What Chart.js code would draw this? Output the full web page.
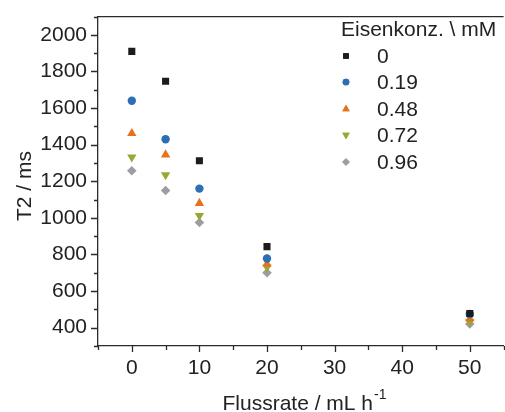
<!DOCTYPE html>
<html lang="de">
<head>
<meta charset="UTF-8">
<title>T2 vs Flussrate</title>
<script src="https://cdn.jsdelivr.net/npm/chart.js"></script>
<style>
  html, body { margin: 0; padding: 0; background: #fff; overflow: hidden; }
  #wrap { position: relative; width: 509px; height: 412px; }
</style>
</head>
<body>
<div id="wrap"><canvas id="chart"></canvas></div>
<script>
// Data
const flussrate = [0, 5, 10, 20, 50];
const konz = ['0', '0.19', '0.48', '0.72', '0.96'];
const t2_000 = [1910, 1747, 1312, 843, 478];
const t2_019 = [1640, 1430, 1160, 778, 475];
const t2_048 = [1462, 1345, 1080, 748, 450];
const t2_072 = [1332, 1235, 1012, 730, 432];
const t2_096 = [1258, 1150, 975, 700, 420];
const yTicks = [400, 600, 800, 1000, 1200, 1400, 1600, 1800, 2000];
const xTicks = [0, 10, 20, 30, 40, 50];

const FONT = "'Liberation Sans', Arial, sans-serif";
const AXIS = '#2b2b2b';

const seriesStyle = [
  { color: '#1c1c1c', pointStyle: 'rect', radius: 5, rotation: 0 },
  { color: '#2d6fb7', pointStyle: 'circle', radius: 4.2, rotation: 0 },
  { color: '#e8711f', pointStyle: 'triangle', radius: 5.4, rotation: 0 },
  { color: '#9aa732', pointStyle: 'triangle', radius: 5.4, rotation: 180 },
  { color: '#9d9da2', pointStyle: 'rectRot', radius: 4.8, rotation: 0 }
];
const allValues = [t2_000, t2_019, t2_048, t2_072, t2_096];

const datasets = allValues.map((vals, i) => ({
  label: konz[i],
  data: flussrate.map((x, j) => ({ x: x, y: vals[j] })),
  showLine: false,
  pointStyle: seriesStyle[i].pointStyle,
  pointRotation: seriesStyle[i].rotation,
  pointRadius: seriesStyle[i].radius,
  pointHoverRadius: seriesStyle[i].radius,
  backgroundColor: seriesStyle[i].color,
  borderColor: seriesStyle[i].color,
  pointBorderWidth: 0
}));

// Draws top frame, major/minor ticks, axis titles and the legend
const decorations = {
  id: 'decorations',
  afterDraw(chart) {
    const ctx = chart.ctx;
    const area = chart.chartArea;
    const xs = chart.scales.x;
    const ys = chart.scales.y;
    ctx.save();
    ctx.strokeStyle = AXIS;
    ctx.lineWidth = 1.3;
    ctx.beginPath();
    ctx.moveTo(area.left, area.top);
    ctx.lineTo(area.right, area.top);
    // y ticks
    for (let v = 300; v <= 2100; v += 100) {
      const y = Math.round(ys.getPixelForValue(v)) + 0.5;
      const len = (v % 200 === 0) ? 7 : 4;
      ctx.moveTo(area.left, y);
      ctx.lineTo(area.left - len, y);
    }
    // x ticks
    for (let v = -5; v <= 55; v += 5) {
      const x = Math.round(xs.getPixelForValue(v)) + 0.5;
      const len = (v % 10 === 0) ? 6 : 4;
      ctx.moveTo(x, area.bottom);
      ctx.lineTo(x, area.bottom + len);
    }
    ctx.stroke();

    // axis titles
    ctx.fillStyle = '#222';
    ctx.font = '21px ' + FONT;
    ctx.textBaseline = 'middle';
    ctx.textAlign = 'center';
    ctx.save();
    ctx.translate(25, 186);
    ctx.rotate(-Math.PI / 2);
    ctx.fillText('T2 / ms', 0, 0);
    ctx.restore();

    const main = 'Flussrate / mL h';
    const sup = '-1';
    ctx.font = '21px ' + FONT;
    const w1 = ctx.measureText(main).width;
    ctx.font = '14px ' + FONT;
    const w2 = ctx.measureText(sup).width;
    const startX = 304 - (w1 + w2) / 2;
    ctx.textAlign = 'left';
    ctx.textBaseline = 'alphabetic';
    ctx.font = '21px ' + FONT;
    ctx.fillText(main, startX, 410);
    ctx.font = '14px ' + FONT;
    ctx.fillText(sup, startX + w1 + 1, 399);

    // legend
    ctx.font = '21px ' + FONT;
    ctx.textBaseline = 'middle';
    ctx.fillText('Eisenkonz. \\ mM', 341, 30);
    const rowY = [56, 82, 109, 135, 162];
    konz.forEach((lab, i) => {
      const s = seriesStyle[i];
      ctx.fillStyle = s.color;
      ctx.strokeStyle = s.color;
      Chart.helpers.drawPoint(ctx, {
        pointStyle: s.pointStyle,
        rotation: s.rotation,
        radius: s.radius * 0.8,
        borderWidth: 0
      }, 346, rowY[i]);
      ctx.fill();
      ctx.fillStyle = '#222';
      ctx.fillText(lab, 377, rowY[i] + 1);
    });
    ctx.restore();
  }
};

new Chart(document.getElementById('chart'), {
  type: 'scatter',
  data: { datasets: datasets },
  options: {
    responsive: true,
    maintainAspectRatio: false,
    animation: false,
    layout: { padding: { top: 13, right: 1, left: 0, bottom: 0 } },
    plugins: {
      legend: { display: false },
      tooltip: { enabled: false }
    },
    scales: {
      x: {
        type: 'linear',
        min: -5,
        max: 55,
        afterFit: s => { s.height = 66; },
        afterBuildTicks: s => { s.ticks = xTicks.map(v => ({ value: v })); },
        border: { color: AXIS, width: 1.3 },
        grid: { drawOnChartArea: false, drawTicks: true, tickLength: 6, color: 'rgba(0,0,0,0)' },
        ticks: { color: '#222', font: { family: FONT, size: 21 }, padding: 4, maxRotation: 0,
                 callback: v => String(v) }
      },
      y: {
        type: 'linear',
        min: 300,
        max: 2100,
        afterFit: s => { s.width = 98; },
        afterBuildTicks: s => { s.ticks = yTicks.map(v => ({ value: v })); },
        border: { color: AXIS, width: 1.3 },
        grid: { drawOnChartArea: false, drawTicks: true, tickLength: 7, color: 'rgba(0,0,0,0)' },
        ticks: { color: '#222', font: { family: FONT, size: 21 }, padding: 4,
                 callback: v => String(v) }
      }
    }
  },
  plugins: [decorations]
});
</script>
</body>
</html>
